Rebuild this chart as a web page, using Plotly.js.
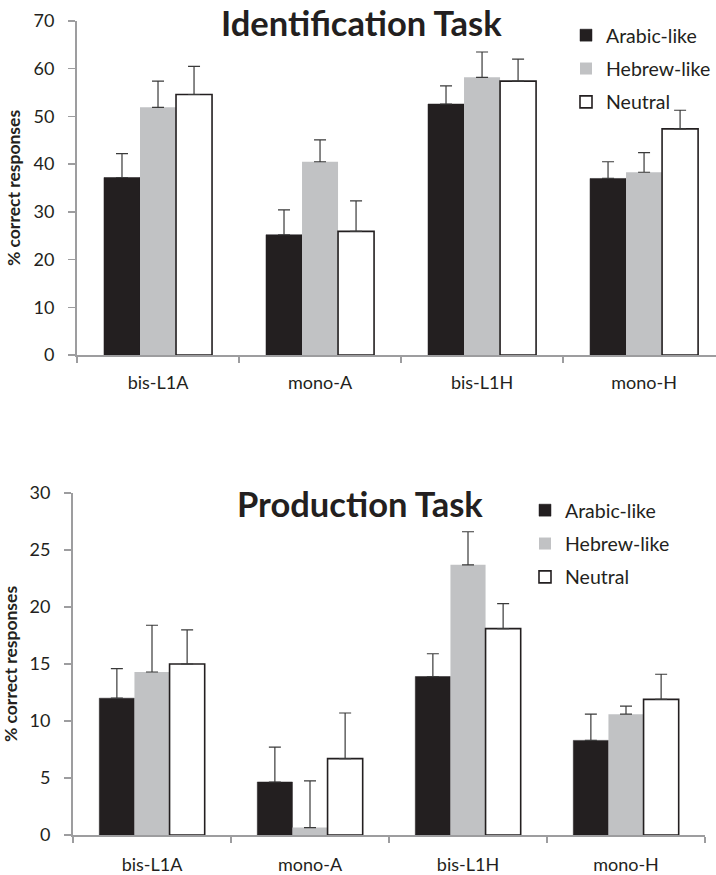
<!DOCTYPE html>
<html>
<head>
<meta charset="utf-8">
<script src="https://cdn.plot.ly/plotly-3.0.1.min.js"></script>
<style>html,body{margin:0;padding:0;background:#fff;}#chart{width:716px;height:875px;}</style>
</head>
<body>
<div id="chart"></div>
<script>
// ---- data ----
const categories = ["bis-L1A", "mono-A", "bis-L1H", "mono-H"];
const seriesNames = ["Arabic-like", "Hebrew-like", "Neutral"];

// Identification task (% correct) and upper error bars
const identArabic = [37.2, 25.2, 52.6, 37.0];
const identHebrew = [51.9, 40.5, 58.2, 38.3];
const identNeutral = [54.6, 25.9, 57.4, 47.4];
const identArabicErr = [5.0, 5.2, 3.8, 3.5];
const identHebrewErr = [5.5, 4.6, 5.3, 4.1];
const identNeutralErr = [5.9, 6.4, 4.6, 3.9];

// Production task (% correct) and upper error bars
const prodArabic = [12.0, 4.65, 13.9, 8.3];
const prodHebrew = [14.3, 0.65, 23.7, 10.6];
const prodNeutral = [15.0, 6.7, 18.1, 11.9];
const prodArabicErr = [2.6, 3.05, 2.0, 2.3];
const prodHebrewErr = [4.1, 4.1, 2.9, 0.7];
const prodNeutralErr = [3.0, 4.0, 2.2, 2.2];

const identTicks = [0, 10, 20, 30, 40, 50, 60, 70];
const prodTicks = [0, 5, 10, 15, 20, 25, 30];

// ---- styles ----
const FONT = "Lato, 'Open Sans', sans-serif";
const fills = ["#231f20", "#c1c2c4", "#ffffff"];
const lines = ["#231f20", "#c1c2c4", "#231f20"];
const lineW = [0.5, 0, 1.6];
const W = 716, H = 875;
const px = v => v / W;
const py = v => 1 - v / H;

function mk(vals, errs, i, xa, ya, leg, grp) {
  return {
    type: "bar",
    x: categories,
    y: vals,
    name: seriesNames[i],
    xaxis: xa, yaxis: ya,
    legend: leg,
    legendgroup: grp + i,
    marker: {color: fills[i], line: {color: lines[i], width: lineW[i]}},
    error_y: {type: "data", symmetric: false, array: errs,
              arrayminus: errs.map(() => 0),
              color: "#3a3a3a", thickness: 1.2, width: 6},
    hoverinfo: "x+y+name"
  };
}

const data = [
  mk(identArabic, identArabicErr, 0, "x", "y", "legend", "t"),
  mk(identHebrew, identHebrewErr, 1, "x", "y", "legend", "t"),
  mk(identNeutral, identNeutralErr, 2, "x", "y", "legend", "t"),
  mk(prodArabic, prodArabicErr, 0, "x2", "y2", "legend2", "b"),
  mk(prodHebrew, prodHebrewErr, 1, "x2", "y2", "legend2", "b"),
  mk(prodNeutral, prodNeutralErr, 2, "x2", "y2", "legend2", "b")
];

const axisCommon = {
  showline: true, linecolor: "#9d9d9f", linewidth: 2,
  showgrid: false, zeroline: false, ticks: "outside",
  tickcolor: "#9d9d9f", tickwidth: 1.5,
  tickfont: {family: FONT, size: 18, color: "#231f20"},
  fixedrange: true
};

const ytitle = {text: "<b>% correct responses</b>", font: {family: FONT, size: 17.5, color: "#231f20"}, standoff: 8};

const legendCommon = {
  xanchor: "left", yanchor: "top",
  font: {family: FONT, size: 19.5, color: "#231f20"}, bgcolor: "rgba(0,0,0,0)",
  traceorder: "grouped", tracegroupgap: 5, itemclick: false, itemdoubleclick: false
};

const layout = {
  width: W, height: H,
  margin: {l: 0, r: 0, t: 0, b: 0},
  paper_bgcolor: "#fff", plot_bgcolor: "rgba(0,0,0,0)",
  barmode: "group", bargap: 0.333, bargroupgap: 0,
  showlegend: true,
  font: {family: FONT, color: "#231f20"},
  xaxis: Object.assign({}, axisCommon, {domain: [px(77), 1], range: [-0.5, 3.444],
    anchor: "y", tickson: "boundaries", ticklen: 6, ticklabelstandoff: 10}),
  yaxis: Object.assign({}, axisCommon, {domain: [py(355), py(21)], range: [0, 70],
    tickvals: identTicks, ticklen: 7, anchor: "x", ticklabelstandoff: 10, title: ytitle}),
  xaxis2: Object.assign({}, axisCommon, {domain: [px(73), px(705)], range: [-0.5, 3.5],
    anchor: "y2", tickson: "boundaries", ticklen: 6, ticklabelstandoff: 12}),
  yaxis2: Object.assign({}, axisCommon, {domain: [py(835), py(493)], range: [0, 30],
    tickvals: prodTicks, ticklen: 7, anchor: "x2", ticklabelstandoff: 10, title: ytitle}),
  legend: Object.assign({}, legendCommon, {x: px(566), y: py(16)}),
  legend2: Object.assign({}, legendCommon, {x: px(525), y: py(491)}),
  annotations: [
    {text: "<b>Identification Task</b>", xref: "paper", yref: "paper", x: px(361), y: py(23),
     xanchor: "center", yanchor: "middle", showarrow: false,
     font: {family: FONT, size: 34.5, color: "#231f20"}},
    {text: "<b>Production Task</b>", xref: "paper", yref: "paper", x: px(360), y: py(504),
     xanchor: "center", yanchor: "middle", showarrow: false,
     font: {family: FONT, size: 34.5, color: "#231f20"}}
  ]
};

Plotly.newPlot("chart", data, layout, {displayModeBar: false, staticPlot: true});
</script>
</body>
</html>
